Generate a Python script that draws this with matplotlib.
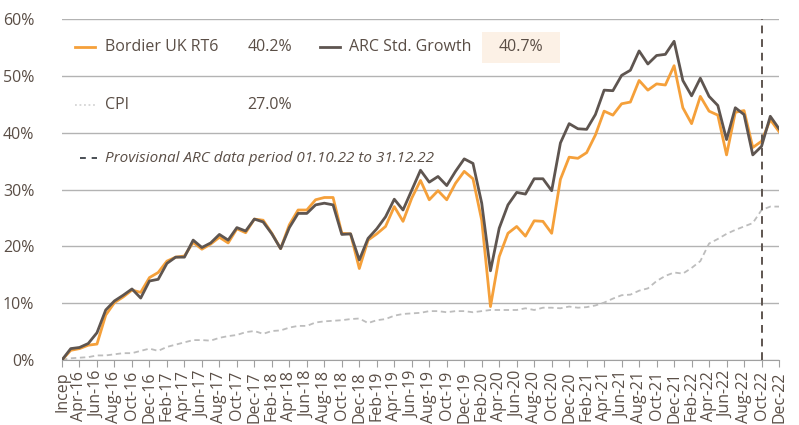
import numpy as np
import pandas as pd
import matplotlib
matplotlib.use("Agg")
import matplotlib.pyplot as plt
from matplotlib.lines import Line2D
from matplotlib.patches import Rectangle

plt.rcParams['font.family'] = ['Open Sans', 'DejaVu Sans']

# monthly cumulative returns (%) from inception (Feb-16) to Dec-22
bordier = [0, 1.7, 2.0, 2.6, 2.8, 7.9, 10.1, 11.1, 12.3, 11.9,
           14.5, 15.4, 17.4, 18.1, 18.3, 20.7, 19.5, 20.4, 21.6, 20.6,
           23.1, 22.4, 24.8, 24.6, 22.3, 19.6, 23.8, 26.4, 26.4, 28.2,
           28.6, 28.6, 22.3, 22.2, 16.1, 21.1, 22.2, 23.5, 27.0, 24.4,
           28.5, 31.6, 28.2, 29.8, 28.2, 31.1, 33.2, 31.9, 24.6, 9.4,
           18.2, 22.3, 23.5, 21.8, 24.5, 24.4, 22.3, 31.8, 35.7, 35.5,
           36.5, 39.6, 43.8, 43.1, 45.1, 45.4, 49.2, 47.5, 48.6, 48.4,
           51.8, 44.4, 41.6, 46.4, 43.8, 43.1, 36.1, 43.6, 43.9, 37.4,
           38.5, 42.3, 40.2]
arc = [0, 2.0, 2.2, 2.9, 4.8, 8.8, 10.4, 11.4, 12.5, 10.9,
       13.9, 14.2, 17.0, 18.1, 18.1, 21.1, 19.8, 20.6, 22.1, 21.1,
       23.3, 22.7, 24.8, 24.3, 22.2, 19.6, 23.3, 25.8, 25.8, 27.3,
       27.6, 27.3, 22.1, 22.2, 17.6, 21.4, 23.1, 25.2, 28.3, 26.4,
       29.9, 33.4, 31.3, 32.3, 30.7, 33.2, 35.4, 34.6, 27.6, 15.7,
       23.2, 27.3, 29.5, 29.2, 31.9, 31.9, 29.8, 38.2, 41.6, 40.7,
       40.6, 43.2, 47.5, 47.4, 50.1, 51.0, 54.4, 52.1, 53.6, 53.8,
       56.1, 49.2, 46.5, 49.6, 46.4, 44.8, 38.8, 44.4, 43.2, 36.1,
       37.6, 42.9, 40.7]
cpi = [0, 0.3, 0.4, 0.5, 0.8, 0.8, 1.0, 1.2, 1.2, 1.6,
       2.0, 1.6, 2.3, 2.7, 3.1, 3.5, 3.5, 3.4, 3.9, 4.2,
       4.4, 4.9, 5.1, 4.6, 5.1, 5.2, 5.7, 6.0, 6.0, 6.6,
       6.8, 6.9, 7.0, 7.2, 7.3, 6.5, 7.0, 7.2, 7.8, 8.1,
       8.2, 8.3, 8.6, 8.6, 8.4, 8.6, 8.6, 8.4, 8.6, 8.8,
       8.8, 8.8, 8.8, 9.1, 8.8, 9.2, 9.2, 9.1, 9.4, 9.2,
       9.3, 9.6, 10.1, 10.8, 11.4, 11.5, 12.2, 12.6, 13.9, 14.8,
       15.4, 15.2, 16.2, 17.4, 20.5, 21.3, 22.2, 22.9, 23.5, 24.1,
       26.4, 27.0, 27.0]

months = pd.date_range("2016-02-01", "2022-12-01", freq="MS")
labels = ["Incep"] + [d.strftime("%b-%y") for d in months[1:]]
provisional_start = "Oct-22"

final_bordier = "40.2%"
final_arc = "40.7%"
final_cpi = "27.0%"

orange = "#F5A03A"
dark = "#5E5550"
grey = "#BDBDBD"
txt = "#5A4E46"

x = np.arange(len(months))

fig = plt.figure(figsize=(7.99, 4.25), dpi=100)
ax = fig.add_axes([0.0776, 0.153, 0.8974, 0.802])

ax.plot(x, cpi, color=grey, lw=1.3, ls=(0, (3, 2)), zorder=2)
ax.plot(x, bordier, color=orange, lw=2.0, zorder=3)
ax.plot(x, arc, color=dark, lw=2.0, zorder=4)
ax.axvline(labels.index(provisional_start), color=dark, lw=1.4, ls=(0, (4, 3)), zorder=5)

ax.set_xlim(0, len(months) - 1)
ax.set_ylim(0, 60)
ax.set_yticks(np.arange(0, 61, 10))
ax.set_yticklabels([f"{v}%" for v in range(0, 61, 10)])
ax.grid(axis="y", color="#B3B3B3", lw=1)
ax.set_axisbelow(True)
ax.set_xticks(x[::2])
ax.set_xticklabels(labels[::2], rotation=90)
for s in ["left", "right", "top"]:
    ax.spines[s].set_visible(False)
ax.spines["bottom"].set_color("#A0A0A0")
ax.tick_params(axis="y", length=0, pad=20, labelsize=11.5, colors=txt)
ax.tick_params(axis="x", length=5, color="#A0A0A0", labelsize=11.5, colors=txt, pad=3)

# legend drawn by hand
t = ax.transAxes
fs = 11.5
ax.add_line(Line2D([0.018, 0.046], [0.918, 0.918], transform=t, color=orange, lw=2.0))
ax.text(0.060, 0.918, "Bordier UK RT6", transform=t, va="center", fontsize=fs, color=txt)
ax.text(0.259, 0.918, final_bordier, transform=t, va="center", fontsize=fs, color=txt)
ax.add_line(Line2D([0.360, 0.388], [0.918, 0.918], transform=t, color=dark, lw=2.0))
ax.text(0.400, 0.918, "ARC Std. Growth", transform=t, va="center", fontsize=fs, color=txt)
ax.add_patch(Rectangle((0.586, 0.871), 0.109, 0.091, transform=t, facecolor="#FCF1E6",
                       edgecolor="none", zorder=1))
ax.text(0.640, 0.918, final_arc, transform=t, va="center", ha="center", fontsize=fs, color=txt, zorder=6)
ax.add_line(Line2D([0.018, 0.046], [0.748, 0.748], transform=t, color="#D5D5D5", lw=1.3, ls=(0, (1, 1.5))))
ax.text(0.060, 0.748, "CPI", transform=t, va="center", fontsize=fs, color=txt)
ax.text(0.259, 0.748, final_cpi, transform=t, va="center", fontsize=fs, color=txt)
ax.add_line(Line2D([0.025, 0.049], [0.592, 0.592], transform=t, color="#4A4F55", lw=1.4, ls=(0, (3, 3))))
ax.text(0.060, 0.592, "Provisional ARC data period 01.10.22 to 31.12.22", transform=t,
        va="center", fontsize=11, color=txt, style="italic")

fig.savefig("out.png", dpi=100)
